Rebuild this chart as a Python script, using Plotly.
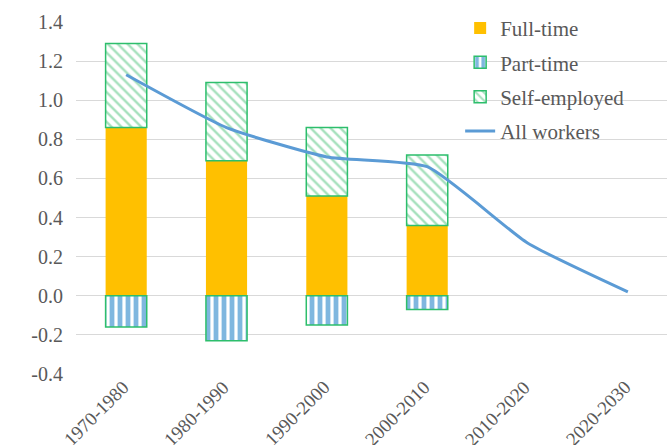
import plotly.graph_objects as go

categories = ["1970-1980", "1980-1990", "1990-2000", "2000-2010", "2010-2020", "2020-2030"]
bar_categories = categories[:4]
full_time = [0.86, 0.69, 0.51, 0.36]
part_time = [-0.16, -0.23, -0.15, -0.07]
self_employed = [0.43, 0.40, 0.35, 0.36]
all_workers = [1.13, 0.86, 0.71, 0.66, 0.27, 0.02]
y_ticks = [-0.4, -0.2, 0.0, 0.2, 0.4, 0.6, 0.8, 1.0, 1.2, 1.4]

GRAY = "#595959"
FONT = "Liberation Serif, DejaVu Serif, serif"

fig = go.Figure()
fig.add_trace(go.Bar(
    x=bar_categories, y=full_time, name="Full-time",
    marker=dict(color="#FFC000", line=dict(width=0)),
    width=0.41, legendgroup="a"))
fig.add_trace(go.Bar(
    x=bar_categories, y=part_time, name="Part-time",
    marker=dict(color="white", line=dict(color="#2DBE6C", width=1.5),
                pattern=dict(shape="|", fgcolor="#0070C0", bgcolor="white",
                             size=8, solidity=0.6, fillmode="overlay")),
    width=0.41, legendgroup="b"))
fig.add_trace(go.Bar(
    x=bar_categories, y=self_employed, name="Self-employed",
    marker=dict(color="white", line=dict(color="#2DBE6C", width=1.5),
                pattern=dict(shape="\\", fgcolor="#4CC27A", bgcolor="white",
                             size=7, solidity=0.35, fillmode="overlay")),
    width=0.41, legendgroup="c"))
fig.add_trace(go.Scatter(
    x=categories, y=all_workers, name="All workers", mode="lines",
    line=dict(color="#5B9BD5", width=3, shape="spline", smoothing=0.5),
    legendgroup="d"))

# category labels, rotated, ending just under the axis
for c in categories:
    fig.add_annotation(x=c, y=-0.4, xref="x", yref="y", text=c, showarrow=False,
                       textangle=-45, xanchor="right", yanchor="top",
                       xshift=9, yshift=0,
                       font=dict(family=FONT, size=19, color=GRAY))

fig.update_layout(
    template="none",
    width=667, height=445,
    barmode="relative",
    plot_bgcolor="white", paper_bgcolor="white",
    margin=dict(l=76, r=0, t=22, b=71, pad=0),
    font=dict(family=FONT, size=19, color=GRAY),
    showlegend=True,
    legend=dict(x=0.65, y=1.04, xanchor="left", yanchor="top",
                bgcolor="rgba(0,0,0,0)",
                font=dict(family="Liberation Serif", size=21, color=GRAY),
                traceorder="grouped", tracegroupgap=4, itemwidth=30),
    xaxis=dict(range=[-0.5, 5.39], showticklabels=False, showgrid=False,
               showline=False, ticks="", categoryorder="array",
               categoryarray=categories, automargin=False),
    yaxis=dict(range=[-0.4, 1.4], tickvals=y_ticks,
               ticktext=[f"{v:.1f}" for v in y_ticks], automargin=False,
               showgrid=True, gridcolor="#D9D9D9", gridwidth=1,
               zeroline=True, zerolinecolor="#D9D9D9", zerolinewidth=1,
               showline=False, ticks="", ticklabelstandoff=12,
               tickfont=dict(family=FONT, size=20, color=GRAY)),
)

fig.write_html("out.html", config={"displayModeBar": False},
               post_script="document.body.style.margin='0px';")
